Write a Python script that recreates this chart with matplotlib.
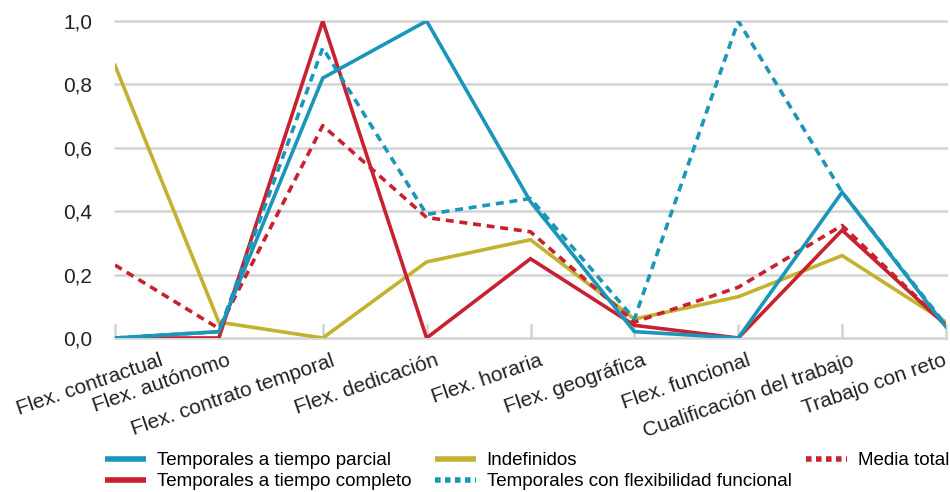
import matplotlib
matplotlib.use("Agg")
import matplotlib.pyplot as plt
from matplotlib import font_manager
from matplotlib.lines import Line2D
import matplotlib.transforms as mtransforms

names = {f.name for f in font_manager.fontManager.ttflist}
FONT = "Liberation Sans Narrow" if "Liberation Sans Narrow" in names else "Liberation Sans"
plt.rcParams['font.family'] = [FONT, 'DejaVu Sans']

categories = ["Flex. contractual", "Flex. autónomo", "Flex. contrato temporal",
              "Flex. dedicación", "Flex. horaria", "Flex. geográfica",
              "Flex. funcional", "Cualificación del trabajo", "Trabajo con reto"]
parcial = [0.00, 0.02, 0.82, 1.00, 0.43, 0.02, 0.00, 0.46, 0.035]
completo = [0.00, 0.00, 1.00, 0.00, 0.25, 0.04, 0.00, 0.34, 0.04]
indefinidos = [0.86, 0.05, 0.00, 0.24, 0.31, 0.06, 0.13, 0.26, 0.05]
flex_funcional = [0.00, 0.02, 0.915, 0.39, 0.44, 0.06, 1.00, 0.46, 0.04]
media = [0.23, 0.03, 0.67, 0.38, 0.335, 0.05, 0.16, 0.355, 0.04]
yticks = [0.0, 0.2, 0.4, 0.6, 0.8, 1.0]
ytick_labels = ["0,0", "0,2", "0,4", "0,6", "0,8", "1,0"]

BLUE = "#1a97b8"
RED = "#c8212f"
YEL = "#c2b22f"
GRID = "#d3d3d3"
TXT = "#222222"

W, H = 950, 492
fig = plt.figure(figsize=(W/100, H/100), dpi=100)
ax = fig.add_axes([115/W, 1-338/H, (946-115)/W, (338-21)/H])

x = list(range(len(categories)))
lw = 2.6
ax.plot(x, indefinidos, color=YEL, lw=lw, label="Indefinidos", zorder=3, solid_joinstyle='miter')
ax.plot(x, media, color=RED, lw=lw, ls=(0, (2.2, 1.6)), label="Media total", zorder=4)
ax.plot(x, completo, color=RED, lw=lw, label="Temporales a tiempo completo", zorder=5, solid_joinstyle='miter')
ax.plot(x, flex_funcional, color=BLUE, lw=lw, ls=(0, (2.2, 1.6)), label="Temporales con flexibilidad funcional", zorder=6)
ax.plot(x, parcial, color=BLUE, lw=lw, label="Temporales a tiempo parcial", zorder=7, solid_joinstyle='miter')

ax.set_xlim(0, len(categories)-1)
ax.set_ylim(0, 1.0)
ax.set_yticks(yticks)
ax.set_yticklabels(ytick_labels, fontsize=15, color=TXT)
for y in yticks:
    ax.axhline(y, color=GRID, lw=1.8, zorder=1, clip_on=False)
for xi in x:
    ax.plot([xi, xi], [0, 0.04], color=GRID, lw=1.8, zorder=1, clip_on=False)
for s in ax.spines.values():
    s.set_visible(False)
ax.tick_params(axis='y', length=0, pad=16.5)
ax.tick_params(axis='x', length=0, pad=9.5)
ax.set_xticks(x)
ax.set_xticklabels(categories, rotation=19, ha='right', va='top', rotation_mode='anchor',
                   fontsize=15, color=TXT)
shifts = [44, 8, 8, 8, 8, 8, 8, 8, -3]
for lab, sh in zip(ax.get_xticklabels(), shifts):
    lab.set_transform(lab.get_transform() + mtransforms.ScaledTranslation(sh/100, 0, fig.dpi_scale_trans))

def handle(color, dashed):
    return Line2D([], [], color=color, lw=4, ls=(0, (1.0, 0.8)) if dashed else '-',
                  solid_capstyle='butt', dash_capstyle='butt')

common = dict(frameon=False, fontsize=13.5, handlelength=2.2, handletextpad=0.55,
              labelspacing=0.22, borderaxespad=0, borderpad=0, loc='upper left')
top = 1-452/H
fig.legend([handle(BLUE, False), handle(RED, False)],
           ["Temporales a tiempo parcial", "Temporales a tiempo completo"],
           bbox_to_anchor=(105/W, top), **common)
fig.legend([handle(YEL, False), handle(BLUE, True)],
           ["Indefinidos", "Temporales con flexibilidad funcional"],
           bbox_to_anchor=(435/W, top), **common)
fig.legend([handle(RED, True)], ["Media total"],
           bbox_to_anchor=(806/W, top), **common)

fig.savefig("out.png", dpi=100)
